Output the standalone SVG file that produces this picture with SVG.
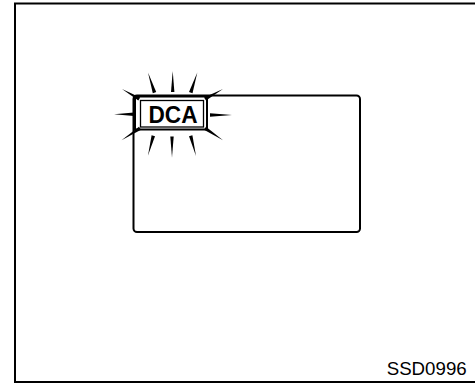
<svg xmlns="http://www.w3.org/2000/svg" width="475" height="384" viewBox="0 0 475 384">
<style>
.ln{fill:none;stroke:#000;stroke-width:2}
.thin{fill:none;stroke:#000;stroke-width:1.3}
.ray{fill:#000;stroke:none}
.t{font-family:"Liberation Sans",Arial,sans-serif;fill:#000}
</style>
<rect width="475" height="384" fill="#fff"/>
<g id="frame"><rect class="ln" x="15" y="3.5" width="470" height="378.5"/></g>
<g id="screen"><rect class="ln" x="133.5" y="95.5" width="226.5" height="136.5" rx="3.5"/></g>
<g id="dca">
<rect x="135" y="96.5" width="72" height="33" fill="#fff" stroke="#000" stroke-width="2"/>
<rect class="thin" x="140.5" y="100.5" width="63" height="26.5"/>
<text class="t" x="173" y="122.5" font-size="24" font-weight="bold" text-anchor="middle" textLength="49" lengthAdjust="spacingAndGlyphs">DCA</text>
</g>
<g id="rays">
<polygon class="ray" points="148,72.5 152.8,93.2 156.2,92"/>
<polygon class="ray" points="172.7,71 171,92 174.4,92"/>
<polygon class="ray" points="197.3,72.5 189,92 192.5,93.2"/>
<polygon class="ray" points="122,89 138.3,100.6 140.2,97.6"/>
<polygon class="ray" points="223,89 204,97.6 206,100.6"/>
<polygon class="ray" points="114,114.3 134,112.6 134,116"/>
<polygon class="ray" points="232,115 210,113.3 210,116.7"/>
<polygon class="ray" points="121.5,140.3 139,126.8 141,129.8"/>
<polygon class="ray" points="223,140.3 204,129.8 206,126.8"/>
<polygon class="ray" points="148,155.5 151.6,135.3 155,136.3"/>
<polygon class="ray" points="172,157.5 170.3,136.5 173.7,136.5"/>
<polygon class="ray" points="196,156 189,136.3 192.4,135.3"/>
</g>
<text class="t" x="386.7" y="375" font-size="17.5" textLength="80" lengthAdjust="spacingAndGlyphs">SSD0996</text>
</svg>
